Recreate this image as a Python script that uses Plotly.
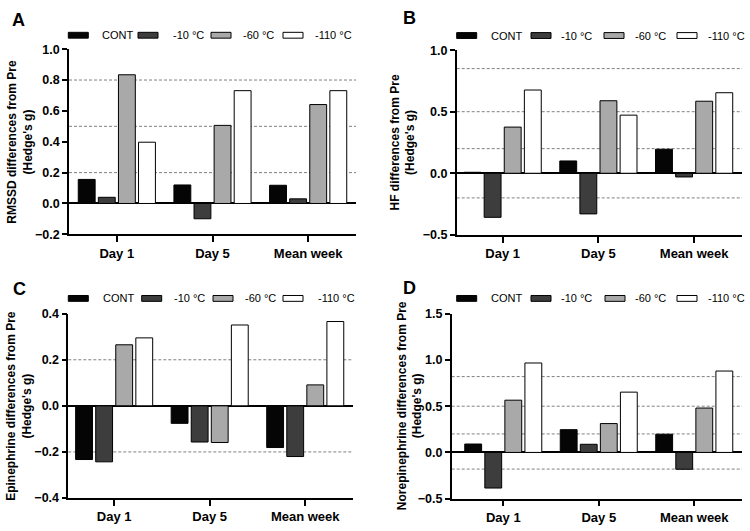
import plotly.graph_objects as go

# ---------------- data ----------------
categories = ["Day 1", "Day 5", "Mean week"]
series_names = ["CONT", "-10 °C", "-60 °C", "-110 °C"]
series_colors = ["#050505", "#3d3d3d", "#a9a9a9", "#ffffff"]

# values per series (CONT, -10, -60, -110), per category
rmssd_vals = [[0.156, 0.120, 0.118],
              [0.040, -0.099, 0.030],
              [0.834, 0.506, 0.641],
              [0.397, 0.731, 0.731]]
hf_vals = [[0.008, 0.100, 0.195],
           [-0.358, -0.330, -0.030],
           [0.375, 0.589, 0.585],
           [0.676, 0.472, 0.654]]
epi_vals = [[-0.233, -0.076, -0.181],
            [-0.243, -0.157, -0.220],
            [0.265, -0.159, 0.091],
            [0.295, 0.351, 0.366]]
nor_vals = [[0.091, 0.246, 0.197],
            [-0.385, 0.088, -0.182],
            [0.565, 0.312, 0.480],
            [0.967, 0.652, 0.880]]

rmssd_refs = [0.2, 0.5, 0.8]
hf_refs = [-0.2, 0.2, 0.5, 0.85]
epi_refs = [-0.2, 0.2]
nor_refs = [-0.18, 0.2, 0.5, 0.82]

rmssd_ticks = [-0.2, 0.0, 0.2, 0.4, 0.6, 0.8, 1.0]
hf_ticks = [-0.5, 0.0, 0.5, 1.0]
epi_ticks = [-0.4, -0.2, 0.0, 0.2, 0.4]
nor_ticks = [-0.5, 0.0, 0.5, 1.0, 1.5]

panel_letters = ["A", "B", "C", "D"]
panel_titles = ["RMSSD differences from Pre<br>(Hedge's g)",
                "HF differences from Pre<br>(Hedge's g)",
                "Epinephrine differences from Pre<br>(Hedge's g)",
                "Norepinephrine differences from Pre<br>(Hedge's g)"]

# ---------------- layout geometry (pixels) ----------------
W, H = 750, 531
FONT = "Arial, 'Liberation Sans', sans-serif"

panels = [
    dict(vals=rmssd_vals, refs=rmssd_refs, ticks=rmssd_ticks, yr=[-0.2, 1.0],
         x0=69, x1=356, y0=43.3, y1=233.5, xr=[-0.5, 2.5],
         letter_xy=(18, 13), title_x=20,
         leg_y=29, leg_sw=[68.3, 138, 211, 283], leg_tx=[100, 171, 241, 313]),
    dict(vals=hf_vals, refs=hf_refs, ticks=hf_ticks, yr=[-0.5, 1.0],
         x0=456.7, x1=742, y0=44.3, y1=234, xr=[-0.48, 2.5],
         letter_xy=(409, 11), title_x=403,
         leg_y=29.3, leg_sw=[456.7, 531, 604, 677], leg_tx=[489, 559, 633, 706]),
    dict(vals=epi_vals, refs=epi_refs, ticks=epi_ticks, yr=[-0.4, 0.4],
         x0=68.3, x1=353, y0=315, y1=504.3, xr=[-0.48, 2.5],
         letter_xy=(19.5, 290), title_x=19,
         leg_y=299.3, leg_sw=[68.3, 141.7, 213, 283], leg_tx=[101, 172, 243, 316]),
    dict(vals=nor_vals, refs=nor_refs, ticks=nor_ticks, yr=[-0.5, 1.5],
         x0=451.7, x1=742, y0=315, y1=505, xr=[-0.54, 2.5],
         letter_xy=(409, 289), title_x=410,
         leg_y=299.3, leg_sw=[456.7, 531, 605, 677], leg_tx=[489, 559, 633, 706]),
]

fig = go.Figure()
shapes = []
annotations = []

def px_x(v):
    return v / W

def px_y(v):
    return 1 - v / H

for i, p in enumerate(panels):
    n = "" if i == 0 else str(i + 1)
    xa, ya = "x" + n, "y" + n
    for s in range(4):
        fig.add_trace(go.Bar(
            x=categories, y=p["vals"][s], name=series_names[s],
            marker=dict(color=series_colors[s], line=dict(color="#000000", width=1)),
            xaxis=xa, yaxis=ya, showlegend=False, hoverinfo="x+y+name"))

    fig.layout["xaxis" + n] = dict(
        domain=[px_x(p["x0"]), px_x(p["x1"])], anchor=ya, range=p["xr"],
        type="category", showline=True, linecolor="#000000", linewidth=1.5,
        ticks="outside", ticklen=6, tickwidth=1.5, tickcolor="#000000",
        showgrid=False, zeroline=False,
        tickfont=dict(family=FONT, size=13, color="#000000", weight="bold"))
    fig.layout["yaxis" + n] = dict(
        domain=[px_y(p["y1"]), px_y(p["y0"])], anchor=xa, range=p["yr"],
        tickvals=p["ticks"], tickformat=".1f",
        showline=True, linecolor="#000000", linewidth=1.5,
        ticks="outside", ticklen=5, tickwidth=1.5, tickcolor="#000000",
        showgrid=False, zeroline=True, zerolinecolor="#000000", zerolinewidth=1.5,
        tickfont=dict(family=FONT, size=12.5, color="#000000", weight="bold"))

    # dashed reference lines
    for r in p["refs"]:
        shapes.append(dict(type="line", xref=xa + " domain", yref=ya,
                           x0=0, x1=1.0, y0=r, y1=r, layer="below",
                           line=dict(color="#808080", width=1, dash="3px,2px")))

    # y-axis title
    annotations.append(dict(
        text=panel_titles[i], xref="paper", yref="paper",
        x=px_x(p["title_x"]), y=(px_y(p["y0"]) + px_y(p["y1"])) / 2,
        textangle=-90, showarrow=False, xanchor="center", yanchor="middle",
        font=dict(family=FONT, size=12, color="#000000", weight="bold")))

    # panel letter
    lx, ly = p["letter_xy"]
    annotations.append(dict(
        text=panel_letters[i], xref="paper", yref="paper",
        x=px_x(lx), y=px_y(ly), showarrow=False,
        xanchor="center", yanchor="middle",
        font=dict(family=FONT, size=18, color="#000000", weight="bold")))

    # custom legend
    for s in range(4):
        sx = p["leg_sw"][s]
        shapes.append(dict(type="rect", xref="paper", yref="paper",
                           x0=px_x(sx), x1=px_x(sx + 20),
                           y0=px_y(p["leg_y"] + 3), y1=px_y(p["leg_y"] - 3),
                           fillcolor=series_colors[s],
                           line=dict(color="#000000", width=1)))
        annotations.append(dict(
            text=series_names[s], xref="paper", yref="paper",
            x=px_x(p["leg_tx"][s]), y=px_y(p["leg_y"]), showarrow=False,
            xanchor="left", yanchor="middle",
            font=dict(family=FONT, size=11, color="#000000")))

fig.update_layout(
    width=W, height=H,
    margin=dict(l=0, r=0, t=0, b=0),
    paper_bgcolor="#ffffff", plot_bgcolor="#ffffff",
    barmode="group", bargap=0.16, bargroupgap=0.16,
    shapes=shapes, annotations=annotations,
    font=dict(family=FONT, color="#000000"),
)

fig.write_html("out.html", config={"displayModeBar": False},
               post_script="document.body.style.margin='0';document.body.style.padding='0';document.body.style.overflow='hidden';")
